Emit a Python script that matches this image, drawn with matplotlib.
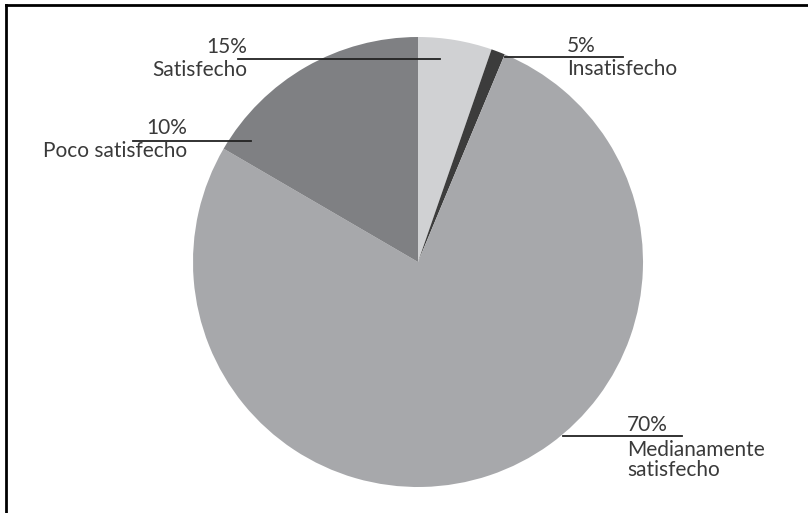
import matplotlib.pyplot as plt
from matplotlib.lines import Line2D

# valores de las porciones y etiquetas que muestra
valores = [5.3, 1.0, 77.1, 16.6]
colores = ['#d0d1d3', '#3c3c3c', '#a7a8ab', '#7f8083']
porcentajes = ['5%', '70%', '10%', '15%']
etiquetas = ['Insatisfecho', 'Medianamente\nsatisfecho', 'Poco satisfecho', 'Satisfecho']

plt.rcParams['font.family'] = ['Lato', 'DejaVu Sans']

W, H = 808, 513
fig = plt.figure(figsize=(W / 100, H / 100), dpi=100)
ax = fig.add_axes([0, 0, 1, 1])

# pastel en coordenadas de pixel (y hacia arriba)
ax.pie(valores, colors=colores, startangle=90, counterclock=False,
       center=(418, H - 262), radius=225, frame=True,
       wedgeprops=dict(linewidth=0))
ax.set_xlim(0, W)
ax.set_ylim(0, H)
ax.axis('off')

tc = '#3a3a3a'
fs = 15

# Insatisfecho / 5%
ax.plot([505, 623], [H - 57, H - 57], color='#222222', lw=1.3)
ax.text(567, H - 46, porcentajes[0], ha='left', va='center', fontsize=fs, color=tc)
ax.text(567, H - 69, etiquetas[0], ha='left', va='center', fontsize=fs, color=tc)

# Medianamente satisfecho / 70%
ax.plot([563, 682], [H - 436, H - 436], color='#222222', lw=1.3)
ax.text(627, H - 425, porcentajes[1], ha='left', va='center', fontsize=fs, color=tc)
ax.text(627, H - 460, etiquetas[1], ha='left', va='center', fontsize=fs, color=tc,
        linespacing=1.05)

# Poco satisfecho / 10%
ax.plot([133, 251], [H - 141, H - 141], color='#222222', lw=1.3)
ax.text(187, H - 128, porcentajes[2], ha='right', va='center', fontsize=fs, color=tc)
ax.text(187, H - 151, etiquetas[2], ha='right', va='center', fontsize=fs, color=tc)

# Satisfecho / 15%
ax.plot([238, 440], [H - 59, H - 59], color='#222222', lw=1.3)
ax.text(247, H - 47, porcentajes[3], ha='right', va='center', fontsize=fs, color=tc)
ax.text(247, H - 70, etiquetas[3], ha='right', va='center', fontsize=fs, color=tc)

# marco (solo arriba e izquierda)
fig.add_artist(Line2D([6 / W, 6 / W], [0, 1 - 5 / H], color='black', lw=2))
fig.add_artist(Line2D([6 / W, 1], [1 - 5 / H, 1 - 5 / H], color='black', lw=2))

fig.savefig('out.png', dpi=100)
